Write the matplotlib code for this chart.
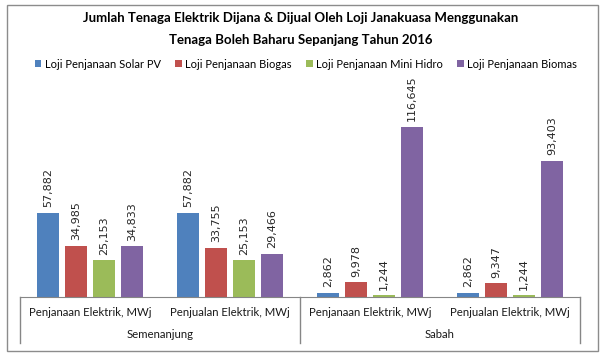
import matplotlib.pyplot as plt
import numpy as np

plt.rcParams['font.family'] = ['Lato', 'DejaVu Sans']

categories = ["Penjanaan Elektrik, MWj", "Penjualan Elektrik, MWj",
              "Penjanaan Elektrik, MWj", "Penjualan Elektrik, MWj"]
regions = ["Semenanjung", "Sabah"]
series = ["Loji Penjanaan Solar PV", "Loji Penjanaan Biogas",
          "Loji Penjanaan Mini Hidro", "Loji Penjanaan Biomas"]
solar_pv = [57882, 57882, 2862, 2862]
biogas = [34985, 33755, 9978, 9347]
mini_hidro = [25153, 25153, 1244, 1244]
biomas = [34833, 29466, 116645, 93403]

colors = ["#4F81BD", "#C0504D", "#9BBB59", "#8064A2"]

W, H = 602, 356
fig = plt.figure(figsize=(W / 100, H / 100), dpi=100)

# outer chart border
fig.add_artist(plt.Rectangle((7 / W, 1 - 351 / H), 591 / W, 346 / H,
                             transform=fig.transFigure, fill=False,
                             edgecolor="#8C8C8C", linewidth=1))

ax_top, ax_bottom = 80, 297
ax = fig.add_axes([20 / W, 1 - ax_bottom / H, 560 / W, (ax_bottom - ax_top) / H])

x = np.arange(len(categories))
width = 0.157
offsets = [-0.3, -0.1, 0.1, 0.3]
for vals, off, color, name in zip([solar_pv, biogas, mini_hidro, biomas],
                                  offsets, colors, series):
    bars = ax.bar(x + off, vals, width, color=color, label=name)
    for b, v in zip(bars, vals):
        ax.annotate(f"{v:,}", (b.get_x() + b.get_width() / 2, v),
                    xytext=(0, 4), textcoords="offset points",
                    rotation=90, ha="center", va="bottom",
                    fontsize=8, color="#262626", family="DejaVu Sans")

ax.set_xlim(-0.5, 3.5)
ax.set_ylim(0, 685 * (ax_bottom - ax_top))
ax.set_yticks([])
ax.set_xticks([])
for s in ["top", "right", "left"]:
    ax.spines[s].set_visible(False)
ax.spines["bottom"].set_color("#868686")

# multi-level category axis
h = ax_bottom - ax_top
trans = ax.get_xaxis_transform()
for xi, lab in zip(x, categories):
    ax.text(xi, -16 / h, lab, transform=trans, ha="center", va="center",
            fontsize=8.2, color="#1a1a1a", clip_on=False)
for gi, reg in enumerate(regions):
    ax.text(2 * gi + 0.5, -37 / h, reg, transform=trans, ha="center",
            va="center", fontsize=8.2, color="#1a1a1a", clip_on=False)
for xs in [-0.5, 1.5, 3.5]:
    ax.plot([xs, xs], [0, -46 / h], transform=trans, color="#868686",
            linewidth=1, clip_on=False)

fig.text(0.5, 1 - 18 / H,
         "Jumlah Tenaga Elektrik Dijana & Dijual Oleh Loji Janakuasa Menggunakan",
         ha="center", va="center", fontsize=9.5, fontweight="bold")
fig.text(0.5, 1 - 40 / H, "Tenaga Boleh Baharu Sepanjang Tahun 2016",
         ha="center", va="center", fontsize=9.5, fontweight="bold")

fig.legend(loc="center", bbox_to_anchor=(0.508, 1 - 64 / H), ncol=4,
           frameon=False, fontsize=8, handlelength=0.6, handleheight=0.6,
           handletextpad=0.3, columnspacing=1.3, borderaxespad=0)

fig.savefig("out.png", dpi=100)
